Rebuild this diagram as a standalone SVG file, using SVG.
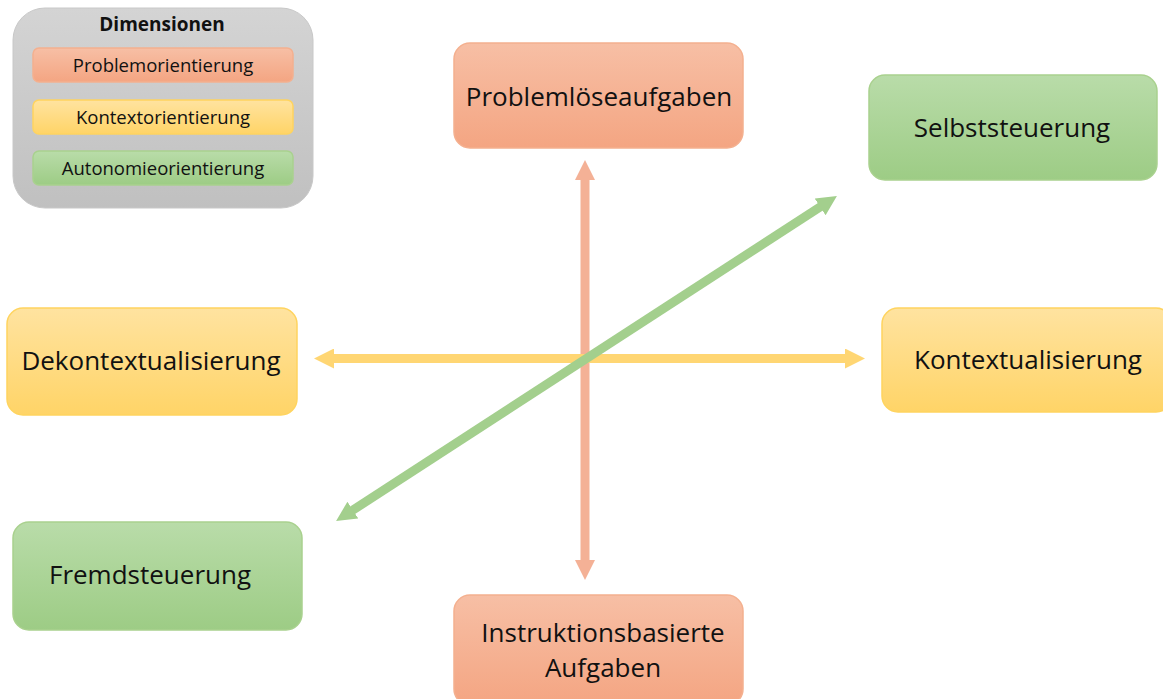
<svg xmlns="http://www.w3.org/2000/svg" width="1163" height="699" viewBox="0 0 1163 699">
<defs>
<linearGradient id="gO" x1="0" y1="0" x2="0" y2="1"><stop offset="0" stop-color="#f7bfa5"/><stop offset="1" stop-color="#f4a582"/></linearGradient>
<linearGradient id="gY" x1="0" y1="0" x2="0" y2="1"><stop offset="0" stop-color="#ffe3a0"/><stop offset="1" stop-color="#ffd467"/></linearGradient>
<linearGradient id="gG" x1="0" y1="0" x2="0" y2="1"><stop offset="0" stop-color="#b9dca9"/><stop offset="1" stop-color="#9dcc85"/></linearGradient>
<linearGradient id="gL" x1="0" y1="0" x2="0" y2="1"><stop offset="0" stop-color="#d4d4d4"/><stop offset="1" stop-color="#c0c0c0"/></linearGradient>
<marker id="mO" viewBox="0 0 10 10" refX="2" refY="5" markerWidth="20" markerHeight="20" markerUnits="userSpaceOnUse" orient="auto-start-reverse"><path d="M0,0 L10,5 L0,10 Z" fill="#f4b196"/></marker>
<marker id="mY" viewBox="0 0 10 10" refX="2" refY="5" markerWidth="20" markerHeight="20" markerUnits="userSpaceOnUse" orient="auto-start-reverse"><path d="M0,0 L10,5 L0,10 Z" fill="#ffd673"/></marker>
<marker id="mG" viewBox="0 0 10 10" refX="2" refY="5" markerWidth="20" markerHeight="20" markerUnits="userSpaceOnUse" orient="auto-start-reverse"><path d="M0,0 L10,5 L0,10 Z" fill="#a3cf8d"/></marker>
</defs>
<style>
.t{font-family:"Open Sans","Liberation Sans",sans-serif;fill:#111;text-anchor:middle}
.n{font-size:26px}
.l{font-size:18.5px}
.o{fill:url(#gO);stroke:#f4b08f;stroke-width:1.5}
.y{fill:url(#gY);stroke:#ffd45f;stroke-width:1.5}
.g{fill:url(#gG);stroke:#a9d18e;stroke-width:1.5}
</style>
<g id="legend">
<rect x="13" y="8" width="300" height="200" rx="32" fill="url(#gL)" stroke="#c8c8c8"/>
<text class="t" x="162" y="31" style="font-size:19px;font-weight:bold">Dimensionen</text>
<rect class="o" x="33" y="48" width="260" height="34" rx="6"/>
<text class="t l" x="163" y="72">Problemorientierung</text>
<rect class="y" x="33" y="100" width="260" height="34" rx="6"/>
<text class="t l" x="163" y="124">Kontextorientierung</text>
<rect class="g" x="33" y="151" width="260" height="34" rx="6"/>
<text class="t l" x="163" y="175">Autonomieorientierung</text>
</g>
<g id="connectors">
<line x1="585" y1="176" x2="585" y2="564" stroke="#f4b196" stroke-width="9" marker-start="url(#mO)" marker-end="url(#mO)"/>
<line x1="330" y1="358.5" x2="849" y2="358.5" stroke="#ffd673" stroke-width="9" marker-start="url(#mY)" marker-end="url(#mY)"/>
<line x1="349.5" y1="512.3" x2="823.5" y2="204.7" stroke="#a3cf8d" stroke-width="9" marker-start="url(#mG)" marker-end="url(#mG)"/>
</g>
<g id="n-problem">
<rect class="o" x="454" y="43" width="289" height="105" rx="16"/>
<text class="t n" x="599" y="106">Problemlöseaufgaben</text>
</g>
<g id="n-selbst">
<rect class="g" x="869" y="75" width="288" height="105" rx="16"/>
<text class="t n" x="1012" y="137">Selbststeuerung</text>
</g>
<g id="n-dekontext">
<rect class="y" x="7" y="308" width="290" height="107" rx="16"/>
<text class="t n" x="151" y="370">Dekontextualisierung</text>
</g>
<g id="n-kontext">
<rect class="y" x="882" y="308" width="290" height="104" rx="16"/>
<text class="t n" x="1028" y="369">Kontextualisierung</text>
</g>
<g id="n-fremd">
<rect class="g" x="13" y="522" width="289" height="108" rx="16"/>
<text class="t n" x="150" y="584">Fremdsteuerung</text>
</g>
<g id="n-instr">
<rect class="o" x="454" y="595" width="289" height="110" rx="16"/>
<text class="t n" x="603" y="642">Instruktionsbasierte</text>
<text class="t n" x="603" y="677">Aufgaben</text>
</g>
</svg>
